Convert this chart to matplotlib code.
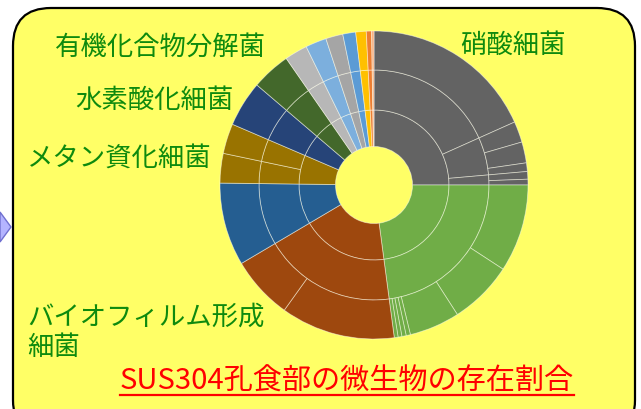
import numpy as np
import matplotlib
matplotlib.use("Agg")
import matplotlib.pyplot as plt
from matplotlib.patches import FancyBboxPatch, Polygon

plt.rcParams['font.family'] = ['Noto Sans CJK JP', 'DejaVu Sans']

# Data: shares (%) of the sunburst, clockwise from 12 o'clock
group_sizes = [25.0, 22.9, 18.6, 8.7, 6.25, 4.8, 4.1, 2.4, 2.2, 1.8, 1.35, 1.1, 0.55, 0.25]
group_colors = ["#636363", "#70ad47", "#9e480e", "#255e91", "#997300", "#264478",
                "#43682b", "#b7b7b7", "#7cafdd", "#a5a5a5", "#5b9bd5", "#ffc000",
                "#ed7d31", "#f4b183"]

# middle ring: children of each group
middle_sizes = [[18.3, 5.3, 1.4], [22.9], [18.6], [8.7], [3.1, 3.15], [4.8], [4.1],
                [2.4], [2.2], [1.8], [1.35], [1.1], [0.55], [0.25]]
# outer ring: children of each group
outer_sizes = [[18.3, 2.2, 2.2, 0.9, 0.8, 0.6],
               [9.2, 6.7, 5.3, 0.45, 0.45, 0.4, 0.4],
               [12.0, 6.6], [8.7], [3.1, 3.15], [4.8], [4.1],
               [2.4], [2.2], [1.8], [1.35], [1.1], [0.55], [0.25]]

group_labels = ["硝酸細菌", "有機化合物分解菌", "水素酸化細菌", "メタン資化細菌",
                "バイオフィルム形成\n細菌"]
title = "SUS304孔食部の微生物の存在割合"

W, H = 641, 409
fig = plt.figure(figsize=(W / 100, H / 100), dpi=100)
fig.patch.set_facecolor("white")

# background axes in pixel units
bg = fig.add_axes([0, 0, 1, 1])
bg.set_xlim(0, W)
bg.set_ylim(H, 0)
bg.axis("off")

box = FancyBboxPatch((13, 8), 622, 430, boxstyle="round,pad=0,rounding_size=38",
                     facecolor="#ffff66", edgecolor="black", linewidth=1.6)
bg.add_patch(box)
arrow = Polygon([(0, 212), (11, 227), (0, 242)], closed=True,
                facecolor="#b4b4ff", edgecolor="#7070d0", linewidth=1)
bg.add_patch(arrow)

# sunburst axes, 1 data unit = 1 pixel
cx, cy, R = 374, 185, 158
ax = fig.add_axes([(cx - R) / W, (H - cy - R) / H, 2 * R / W, 2 * R / H])
ax.set_aspect("equal")
ax.axis("off")

r_hole, r1, r2, r3 = 38.5, 75, 115, 154
edge = dict(edgecolor=(1, 1, 1, 0.5), linewidth=0.6)

ax.pie(group_sizes, radius=r1, colors=group_colors, startangle=90, counterclock=False,
       wedgeprops=dict(width=r1 - r_hole, **edge), normalize=True)

mid_vals = [v for sub in middle_sizes for v in sub]
mid_cols = [group_colors[i] for i, sub in enumerate(middle_sizes) for _ in sub]
ax.pie(mid_vals, radius=r2, colors=mid_cols, startangle=90, counterclock=False,
       wedgeprops=dict(width=r2 - r1, **edge), normalize=True)

out_vals = [v for sub in outer_sizes for v in sub]
out_cols = [group_colors[i] for i, sub in enumerate(outer_sizes) for _ in sub]
ax.pie(out_vals, radius=r3, colors=out_cols, startangle=90, counterclock=False,
       wedgeprops=dict(width=r3 - r2, **edge), normalize=True)
ax.set_xlim(-R, R)
ax.set_ylim(-R, R)

# labels
green = "#0e8a0e"
fs = 19
bg.text(460, 45, group_labels[0], color=green, fontsize=fs, ha="left", va="center")
bg.text(55, 47, group_labels[1], color=green, fontsize=fs, ha="left", va="center")
bg.text(75, 100, group_labels[2], color=green, fontsize=fs, ha="left", va="center")
bg.text(27, 158, group_labels[3], color=green, fontsize=fs, ha="left", va="center")
bg.text(27, 332, group_labels[4], color=green, fontsize=fs, ha="left", va="center",
        linespacing=1.15)

t = bg.text(347, 382, title, color="red", fontsize=21, ha="center", va="center")
fig.canvas.draw()
bb = t.get_window_extent().transformed(bg.transData.inverted())
x0, x1 = sorted([bb.x0, bb.x1])
yu = max(bb.y0, bb.y1) - 2
bg.plot([x0, x1], [yu, yu], color="red", lw=1.6)

fig.savefig("out.png", dpi=100)
